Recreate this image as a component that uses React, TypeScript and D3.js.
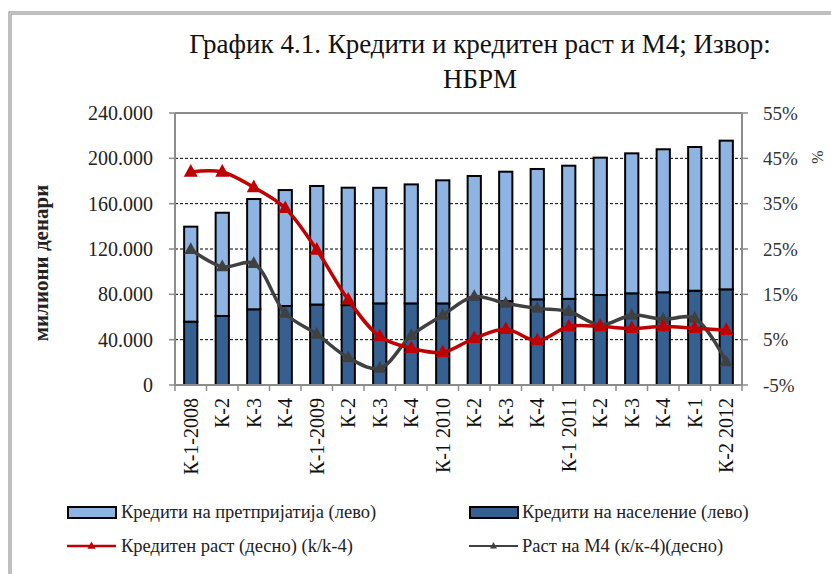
import React from "react";
import * as d3 from "d3";

const categories = [
  "К-1-2008", "К-2", "К-3", "К-4",
  "К-1-2009", "К-2", "К-3", "К-4",
  "К-1 2010", "К-2", "К-3", "К-4",
  "К-1 2011", "К-2", "К-3", "К-4",
  "К-1", "К-2 2012",
];
// Кредити на население (лево)
const householdLoans = [
  55900, 60900, 66800, 69700, 71000, 70500, 72000, 72000, 72000,
  76000, 74000, 75600, 76000, 79400, 80900, 81800, 83200, 84400,
];
// Кредити на претпријатија (лево)
const enterpriseLoans = [
  83800, 91100, 97300, 102300, 104600, 103600, 102000, 105000, 108600,
  108400, 114200, 115000, 117500, 121200, 123500, 126200, 126800, 131200,
];
// Кредитен раст (десно)(k/k-4), %
const creditGrowth = [
  42.0, 42.0, 38.6, 34.0, 24.8, 13.8, 5.7, 3.1, 2.2,
  5.3, 7.3, 4.8, 7.9, 7.9, 7.5, 7.9, 7.5, 7.1,
];
// Раст на М4 (к/к-4)(десно), %
const m4Growth = [
  24.9, 21.1, 21.8, 10.8, 6.2, 1.0, -1.3, 5.9, 10.4,
  14.5, 13.0, 11.9, 11.2, 8.2, 10.4, 9.5, 9.7, 0.1,
];
const leftTicks = [0, 40000, 80000, 120000, 160000, 200000, 240000];
const rightTicks = [-5, 5, 15, 25, 35, 45, 55];
const titleLines = ["График 4.1. Кредити и кредитен раст и М4; Извор:", "НБРМ"];
const legendLabels = [
  "Кредити на претпријатија (лево)",
  "Кредити на население (лево)",
  "Кредитен раст (десно) (k/k-4)",
  "Раст на М4 (к/к-4)(десно)",
];

const W = 831;
const H = 574;
const FONT = "'Liberation Serif', 'DejaVu Serif', serif";
const LIGHT = "#8db4e2";
const DARK = "#366092";
const RED = "#c00000";
const GRAY = "#404040";

const plot = { left: 175, right: 742, top: 113, bottom: 385 };

function fmtThousands(v: number) {
  if (v === 0) return "0";
  return d3.format(",")(v).replace(/,/g, ".");
}

function Triangle({ x, y, size, color }: { x: number; y: number; size: number; color: string }) {
  const h = size * 0.9;
  const p = `M${x},${y - h * 0.62} L${x + size / 2},${y + h * 0.38} L${x - size / 2},${y + h * 0.38} Z`;
  return <path d={p} fill={color} />;
}

export default function App() {
  const x = d3
    .scaleBand<number>()
    .domain(categories.map((_, i) => i))
    .range([plot.left, plot.right])
    .paddingInner(0.58)
    .paddingOuter(0.29);
  const band = (plot.right - plot.left) / categories.length;
  const yL = d3.scaleLinear().domain([0, 240000]).range([plot.bottom, plot.top]);
  const yR = d3.scaleLinear().domain([-5, 55]).range([plot.bottom, plot.top]);
  const cx = (i: number) => (x(i) as number) + x.bandwidth() / 2;

  const lineGen = d3
    .line<number>()
    .x((_, i) => cx(i))
    .y((d) => yR(d))
    .curve(d3.curveCatmullRom.alpha(0.5));

  return (
    <svg
      width={W}
      height={H}
      style={{ position: "absolute", left: 0, top: 0, background: "#fff" }}
      fontFamily={FONT}
    >
      {/* outer frame */}
      <rect x={10} y={13} width={W + 20} height={H + 20} fill="none" stroke="#808080" strokeWidth={3} />
      <rect x={10} y={13} width={W + 20} height={H + 20} fill="none" stroke="#fff" strokeWidth={1} />

      {/* title */}
      {titleLines.map((t, i) => (
        <text key={i} x={480} y={53 + i * 35} textAnchor="middle" fontSize={27} fill="#111">
          {t}
        </text>
      ))}

      {/* gridlines */}
      {leftTicks.slice(1, -1).map((t) => (
        <line
          key={t}
          x1={plot.left}
          x2={plot.right}
          y1={yL(t)}
          y2={yL(t)}
          stroke="#000"
          strokeWidth={1}
          strokeDasharray="3,2"
        />
      ))}

      {/* plot area border */}
      <line x1={plot.left} x2={plot.right} y1={plot.top} y2={plot.top} stroke="#8c8c8c" strokeWidth={2} />
      <line x1={plot.left} x2={plot.left} y1={plot.top} y2={plot.bottom} stroke="#8c8c8c" strokeWidth={2} />
      <line x1={plot.right} x2={plot.right} y1={plot.top} y2={plot.bottom} stroke="#8c8c8c" strokeWidth={2} />

      {/* bars */}
      {categories.map((_, i) => {
        const x0 = x(i) as number;
        const bw = x.bandwidth();
        const hTop = yL(householdLoans[i]);
        const tTop = yL(householdLoans[i] + enterpriseLoans[i]);
        return (
          <g key={i}>
            <rect x={x0} y={hTop} width={bw} height={plot.bottom - hTop} fill={DARK} stroke="#000" strokeWidth={2} />
            <rect x={x0} y={tTop} width={bw} height={hTop - tTop} fill={LIGHT} stroke="#000" strokeWidth={2} />
          </g>
        );
      })}

      {/* bottom axis */}
      <line x1={plot.left} x2={plot.right} y1={plot.bottom} y2={plot.bottom} stroke="#8c8c8c" strokeWidth={2} />
      {d3.range(categories.length + 1).map((i) => (
        <line
          key={i}
          x1={plot.left + i * band}
          x2={plot.left + i * band}
          y1={plot.bottom}
          y2={plot.bottom + 6}
          stroke="#8c8c8c"
          strokeWidth={1.5}
        />
      ))}

      {/* left axis ticks & labels */}
      {leftTicks.map((t) => (
        <g key={t}>
          <line x1={plot.left - 6} x2={plot.left} y1={yL(t)} y2={yL(t)} stroke="#8c8c8c" strokeWidth={1.5} />
          <text x={153} y={yL(t)} dy="0.35em" textAnchor="end" fontSize={20} fill="#222">
            {fmtThousands(t)}
          </text>
        </g>
      ))}

      {/* right axis ticks & labels */}
      {rightTicks.map((t) => (
        <g key={t}>
          <line x1={plot.right} x2={plot.right + 6} y1={yR(t)} y2={yR(t)} stroke="#8c8c8c" strokeWidth={1.5} />
          <text x={763} y={yR(t)} dy="0.35em" textAnchor="start" fontSize={19} fill="#333">
            {`${t}%`}
          </text>
        </g>
      ))}

      {/* axis titles */}
      <text
        transform={`translate(48,263) rotate(-90)`}
        textAnchor="middle"
        fontSize={21}
        fontWeight="bold"
        fill="#222"
      >
        милиони денари
      </text>
      <text transform={`translate(823,157) rotate(-90)`} textAnchor="middle" fontSize={16} fill="#333">
        %
      </text>

      {/* x labels */}
      {categories.map((c, i) => (
        <text
          key={i}
          transform={`translate(${cx(i) + 7},${plot.bottom + 13}) rotate(-90)`}
          textAnchor="end"
          fontSize={20}
          fill="#111"
        >
          {c}
        </text>
      ))}

      {/* lines */}
      <path d={lineGen(m4Growth) || ""} fill="none" stroke={GRAY} strokeWidth={3.5} />
      {m4Growth.map((v, i) => (
        <Triangle key={i} x={cx(i)} y={yR(v)} size={13} color={GRAY} />
      ))}
      <path d={lineGen(creditGrowth) || ""} fill="none" stroke={RED} strokeWidth={3.5} />
      {creditGrowth.map((v, i) => (
        <Triangle key={i} x={cx(i)} y={yR(v)} size={14} color={RED} />
      ))}

      {/* legend */}
      <g fontSize={18.5} fill="#222">
        <rect x={68} y={507} width={48} height={11} fill={LIGHT} stroke="#000" strokeWidth={2} />
        <text x={121} y={518}>{legendLabels[0]}</text>
        <rect x={470} y={507} width={48} height={11} fill={DARK} stroke="#000" strokeWidth={2} />
        <text x={522} y={518}>{legendLabels[1]}</text>
        <line x1={67} x2={116} y1={546} y2={546} stroke={RED} strokeWidth={2.5} />
        <Triangle x={91.5} y={546} size={8} color={RED} />
        <text x={121} y={552}>{legendLabels[2]}</text>
        <line x1={469} x2={518} y1={546} y2={546} stroke={GRAY} strokeWidth={2} />
        <Triangle x={493.5} y={546} size={7} color={GRAY} />
        <text x={522} y={552}>{legendLabels[3]}</text>
      </g>
    </svg>
  );
}
